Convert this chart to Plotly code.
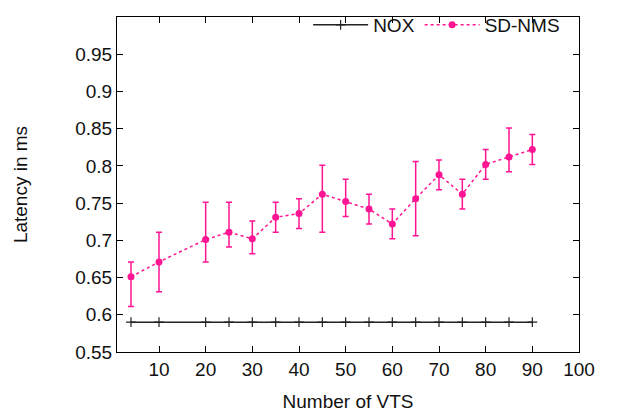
import plotly.graph_objects as go

# Number of VTS
vts = [4, 10, 20, 25, 30, 35, 40, 45, 50, 55, 60, 65, 70, 75, 80, 85, 90]

# NOX latency (ms)
nox = [0.59] * len(vts)

# SD-NMS latency (ms) with low / high error bounds
sdnms = [0.651, 0.671, 0.701, 0.711, 0.702, 0.731, 0.736, 0.762, 0.752,
         0.742, 0.722, 0.756, 0.788, 0.762, 0.802, 0.812, 0.822]
sdnms_lo = [0.611, 0.631, 0.671, 0.691, 0.682, 0.711, 0.716, 0.711, 0.732,
            0.722, 0.702, 0.706, 0.768, 0.742, 0.782, 0.792, 0.802]
sdnms_hi = [0.671, 0.711, 0.751, 0.751, 0.726, 0.751, 0.756, 0.801, 0.782,
            0.762, 0.742, 0.806, 0.808, 0.782, 0.822, 0.851, 0.842]

x_ticks = [10, 20, 30, 40, 50, 60, 70, 80, 90, 100]
y_ticks = [0.55, 0.6, 0.65, 0.7, 0.75, 0.8, 0.85, 0.9, 0.95, 1]

pink = "#ff1493"
fsize = 19

fig = go.Figure()
fig.add_trace(go.Scatter(
    x=vts, y=nox, name="NOX", mode="lines+markers",
    line=dict(color="#222222", width=1.5),
    marker=dict(symbol="cross-thin", size=7, line=dict(color="#222222", width=1.2)),
))
fig.add_trace(go.Scatter(
    x=vts, y=sdnms, name="SD-NMS", mode="lines+markers",
    line=dict(color=pink, width=1.5, dash="dot"),
    marker=dict(symbol="circle", size=7, color=pink),
    error_y=dict(
        type="data", symmetric=False,
        array=[h - v for h, v in zip(sdnms_hi, sdnms)],
        arrayminus=[v - l for l, v in zip(sdnms_lo, sdnms)],
        color=pink, thickness=1.5, width=3,
    ),
))

axis_common = dict(
    showline=True, linecolor="black", linewidth=1, mirror="ticks",
    ticks="inside", ticklen=6, tickcolor="black", tickwidth=1,
    showgrid=False, zeroline=False,
    tickfont=dict(size=fsize, color="#111"),
)
fig.update_xaxes(
    range=[1, 100], tickvals=x_ticks,
    title=dict(text="Number of VTS", font=dict(size=fsize, color="#111"), standoff=15),
    **axis_common,
)
fig.update_yaxes(
    range=[0.55, 1], tickvals=y_ticks, ticktext=[f"{v:g}" for v in y_ticks],
    title=dict(text="Latency in ms", font=dict(size=fsize, color="#111"), standoff=42),
    **axis_common,
)
# page body adds an 8px margin, so the figure is 8px smaller and shifted
fig.update_layout(
    width=610, height=409,
    margin=dict(l=109, r=39, t=9, b=65, autoexpand=False),
    paper_bgcolor="white", plot_bgcolor="white",
    font=dict(family="Liberation Sans, Arial, sans-serif", size=fsize, color="#111"),
    legend=dict(
        orientation="h", x=0.97, xanchor="right", y=1.033, yanchor="top",
        bgcolor="rgba(0,0,0,0)", font=dict(size=fsize), itemwidth=55,
    ),
)
fig.write_html("out.html")
